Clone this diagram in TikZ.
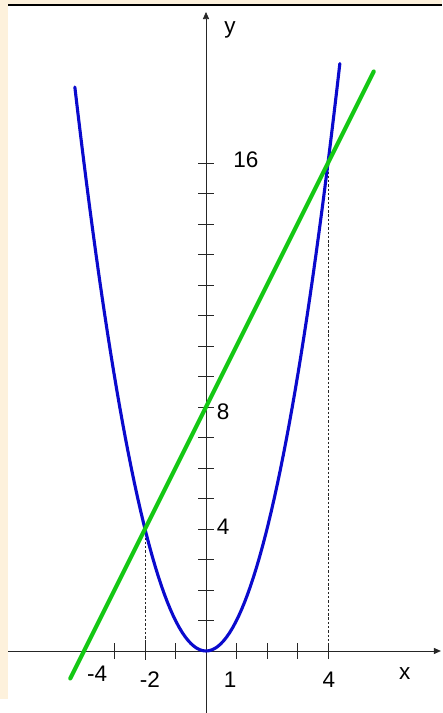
\documentclass[tikz,border=0pt]{standalone}
\usepackage{fontspec}
\setmainfont{Liberation Sans}
\usetikzlibrary{arrows.meta}
\definecolor{creamcolor}{RGB}{253,241,220}
\definecolor{parabcolor}{RGB}{10,10,205}
\definecolor{linecolor}{RGB}{20,200,20}
\tikzset{
  axisln/.style={-{Triangle[length=2.3mm,width=2mm]}, line width=0.7pt, black!85},
  tickln/.style={line width=0.7pt, black!85},
  dropln/.style={dash pattern=on 2.2pt off 1.8pt, line width=0.6pt, black!85},
  parabln/.style={line width=2.9pt, line cap=round, line join=round, parabcolor},
  lineln/.style={line width=3.9pt, line cap=round, linecolor},
  lbl/.style={inner sep=0pt, font=\fontsize{21}{24}\selectfont},
}

\begin{document}
\begin{tikzpicture}
    \useasboundingbox (-6.754,-2.033) rectangle (7.738,21.344);
    % frame
    \fill[creamcolor] (-6.754,-2.033) rectangle (7.738,21.344);
    \fill[white] (-6.49,-2.033) rectangle (7.738,21.17);
    \fill[white] (-6.754,-2.033) rectangle (-6.49,-1.574);
    \draw[line width=1.5pt] (-6.49,21.17) -- (7.738,21.17);
    % axes
    \coordinate (xs) at (-6.49,0);
    \coordinate (xe) at (7.70,0);
    \coordinate (ys) at (0,-2.1);
    \coordinate (ye) at (0,20.95);
    \draw[axisln] (xs) -- (xe);
    \draw[axisln] (ys) -- (ye);
    \node[lbl] (xlab) at (6.52,-0.75) {x};
    \node[lbl] (ylab) at (0.79,20.36) {y};
    % ticks
    \foreach \i in {-3,-2,-1,1,2,3,4}
      \draw[tickln] (\i,-0.25) -- (\i,0.25);
    \foreach \j in {1,...,16}
      \draw[tickln] (-0.25,\j) -- (0.25,\j);
    \node[lbl] (xm4) at (-3.57,-0.75) {-4};
    \node[lbl] (xm2) at (-1.84,-0.95) {-2};
    \node[lbl] (x1) at (0.79,-0.95) {1};
    \node[lbl] (x4) at (4.03,-0.95) {4};
    \node[lbl] (y4) at (0.56,4.07) {4};
    \node[lbl] (y8) at (0.56,7.84) {8};
    \node[lbl] (y16) at (1.31,16.10) {16};
    % intersection points
    \coordinate (pa) at (-2,4);
    \coordinate (pb) at (4,16);
    \coordinate (pa0) at (-2,-0.3);
    \coordinate (pb0) at (4,-0.3);
    \draw[dropln] (pa) -- (pa0);
    \draw[dropln] (pb) -- (pb0);
    % parabola
    \draw[parabln] plot[domain=-4.3:4.39, samples=90] (\x,{\x*\x});
    % line
    \coordinate (ls) at (-4.45,-0.9);
    \coordinate (le) at (5.5,19);
    \draw[lineln] (ls) -- (le);
  \end{tikzpicture}
\end{document}
